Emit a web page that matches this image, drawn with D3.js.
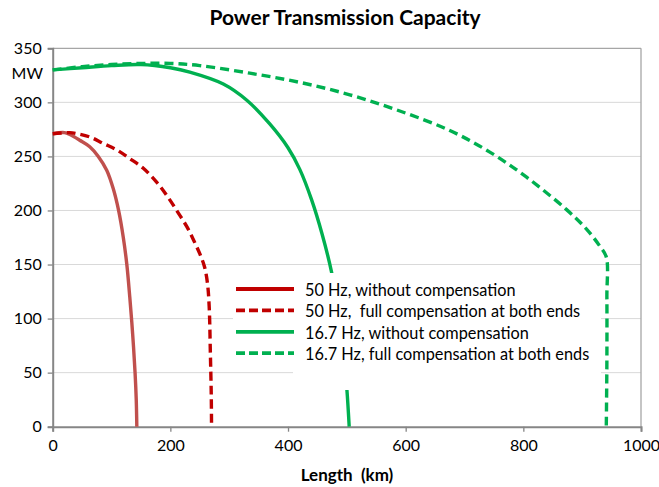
<!DOCTYPE html>
<html>
<head>
<meta charset="utf-8">
<script src="https://cdn.jsdelivr.net/npm/d3@7"></script>
<style>
  body { margin: 0; background: #fff; }
  svg { font-family: Lato, "Open Sans", sans-serif; }
  text { white-space: pre; }
</style>
</head>
<body>
<script>
// values: [length km, capacity MW]
var hz50Plain = [[0, 271], [20, 272], [30, 270], [46, 265], [63, 259], [77.5, 250], [92, 237], [103, 220],
    [112, 200], [120, 175], [126, 150], [131, 120], [136, 85], [140, 50], [142, 25], [143, 0]];
var hz50Comp = [[0, 271], [29, 272], [41, 271], [63, 268], [86, 262], [109, 256], [131, 248], [154, 239],
    [177, 226], [195, 213], [212, 199], [228, 185], [240, 172], [250, 160], [258, 148], [263, 133],
    [266, 111], [268, 68], [269.5, 30], [270, 0]];
var hz167Plain = [[0, 330], [50, 332], [100, 334], [150, 335], [200, 332], [233, 328], [290, 317],
    [330, 302], [369, 280], [400, 258], [420, 238], [440, 210], [458, 178], [474, 143], [486, 105],
    [495, 65], [500, 35], [504, 0]];
var hz167Comp = [[0, 330], [50, 333], [100, 335], [150, 336], [200, 336], [250, 334], [335, 327],
    [420, 318.5], [505, 307], [590, 292], [675, 274], [743, 254], [805, 231], [873, 201],
    [907, 183], [930, 167], [941, 157], [942, 120], [942, 60], [941, 0]];

var legendLabels = ["50 Hz, without compensation", "50 Hz,  full compensation at both ends",
    "16.7 Hz, without compensation", "16.7 Hz, full compensation at both ends"];
var xTicks = [0, 200, 400, 600, 800, 1000];
var yTicks = [0, 50, 100, 150, 200, 250, 300, 350];

var w = 659, h = 487;
var padLeft = 52.7, padRight = 641, padTop = 48.3, padBottom = 426.7;

var svg = d3.select("body").append("svg").attr("width", w).attr("height", h);

var x = d3.scaleLinear().domain([0, 1000]).range([padLeft, padRight]);
var y = d3.scaleLinear().domain([0, 350]).range([padBottom, padTop]);

// gridlines
svg.append("g").selectAll("line").data(yTicks.filter(d => d > 0 && d < 350)).enter().append("line")
    .attr("x1", padLeft).attr("x2", padRight)
    .attr("y1", d => y(d)).attr("y2", d => y(d))
    .attr("stroke", "#d9d9d9").attr("stroke-width", 1);

// plot border top / right
svg.append("line").attr("x1", padLeft).attr("x2", padRight).attr("y1", y(350)).attr("y2", y(350))
    .attr("stroke", "#a6a6a6").attr("stroke-width", 1.3);
svg.append("line").attr("x1", padRight).attr("x2", padRight).attr("y1", padTop).attr("y2", padBottom)
    .attr("stroke", "#a6a6a6").attr("stroke-width", 1.3);

// axes
var xAxis = d3.axisBottom(x).tickValues(xTicks).tickFormat(d3.format("d")).tickSize(5).tickPadding(8);
var yAxis = d3.axisLeft(y).tickValues(yTicks).tickFormat(d3.format("d")).tickSize(5).tickPadding(6);

var gx = svg.append("g").attr("transform", "translate(0," + padBottom + ")").call(xAxis);
var gy = svg.append("g").attr("transform", "translate(" + padLeft + ",0)").call(yAxis);
[gx, gy].forEach(function (g) {
    g.select(".domain").attr("stroke", "#868686").attr("stroke-width", 2);
    g.selectAll(".tick line").attr("stroke", "#868686").attr("stroke-width", 1.3);
    g.selectAll(".tick text").attr("fill", "#000").attr("font-size", 16).attr("font-family", "Lato, sans-serif");
});

svg.append("text").attr("x", 43).attr("y", 79).attr("text-anchor", "end")
    .attr("font-size", 16).text("MW");

// series
var line = d3.line().x(d => x(d[0])).y(d => y(d[1])).curve(d3.curveCatmullRom.alpha(0.5));
var series = [
    { data: hz50Plain, color: "#c0504d", dash: null },
    { data: hz50Comp, color: "#c00000", dash: "9,5" },
    { data: hz167Plain, color: "#00b050", dash: null },
    { data: hz167Comp, color: "#00b050", dash: "9,5" }
];
svg.append("g").selectAll("path").data(series).enter().append("path")
    .attr("d", d => line(d.data))
    .attr("fill", "none")
    .attr("stroke", d => d.color)
    .attr("stroke-width", 3.4)
    .attr("stroke-dasharray", d => d.dash);

// legend (white box hides lines behind it)
svg.append("path")
    .attr("d", "M233,273 L601,273 L601,390 L293,390 L293,366 L233,366 Z")
    .attr("fill", "#fff");

var legendColors = ["#c00000", "#c00000", "#00b050", "#00b050"];
var legendDash = [null, "9,4", null, "9,4"];
var legend = svg.selectAll(".legend").data(legendLabels).enter().append("g")
    .attr("class", "legend")
    .attr("transform", function (d, i) {
        return "translate(0," + (290.5 + i * 21.4) + ")";
    });
legend.append("line").attr("x1", 236).attr("x2", 294).attr("y1", -1.5).attr("y2", -1.5)
    .attr("stroke", (d, i) => legendColors[i])
    .attr("stroke-width", 3.8)
    .attr("stroke-dasharray", (d, i) => legendDash[i]);
legend.append("text").attr("x", 305).attr("y", 5.5).attr("font-size", 16.3).text(d => d);

// titles
svg.append("text").attr("x", 345).attr("y", 25).attr("text-anchor", "middle")
    .attr("font-size", 21).attr("font-weight", "bold").text("Power Transmission Capacity");
svg.append("text").attr("x", 347).attr("y", 481).attr("text-anchor", "middle")
    .attr("font-size", 17).attr("font-weight", "bold").text("Length  (km)");
</script>
</body>
</html>
